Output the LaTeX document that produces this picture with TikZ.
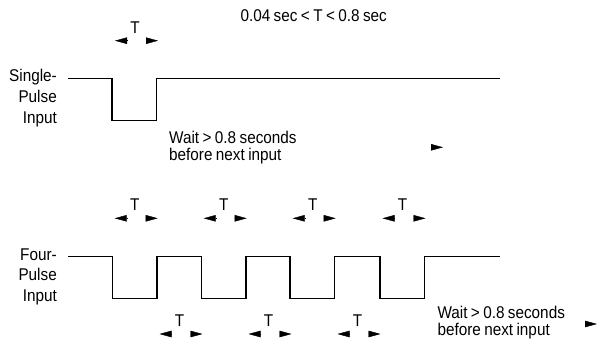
\documentclass[tikz,border=0pt]{standalone}
\usepackage{fontspec}
\setmainfont{Liberation Sans}[FakeStretch=0.9, WordSpace=0.8]
\usetikzlibrary{arrows.meta,positioning}

\begin{document}
\begin{tikzpicture}[x=1pt,y=-1pt,
  signal/.style={line width=1.3pt, line join=miter},
  txt/.style={font=\fontsize{17}{20.8}\selectfont, inner sep=0pt},
  wait/.style={font=\fontsize{17}{16.8}\selectfont, inner sep=0pt, align=left, anchor=base west},
  halbpfeil/.style={-{Triangle[length=12pt,width=6.5pt]}}]
\useasboundingbox (0,0) rectangle (599,347);
%Pulsbreite und Pegelsprung
  \pgfmathsetmacro{\pw}{44.7}
  \pgfmathsetmacro{\hub}{41.8}
%Einzelpuls
\draw[signal] (68,78.7) -- (112,78.7) -- ++(0,\hub) -- ++(\pw,0) -- ++(0,-\hub) -- (500,78.7);
%Vier Pulse
\draw[signal] (68,256.7) \foreach \x in {112.3,201.3,290,380} { -- (\x,256.7) -- ++(0,\hub) -- ++(\pw,0) -- ++(0,-\hub) } -- (500,256.7);
%Grundlinie der letzten Zeile
\node[txt, align=right, anchor=base east] (single) at (57,123.3) {Single-\\Pulse\\Input};
\node[txt, align=right, anchor=base east] (four) at (57,301.7) {Four-\\Pulse\\Input};
\node[txt, anchor=base] (range) at (313.7,21.7) {0.04 sec < T < 0.8 sec};
%T-Markierungen: Mitte / Hoehe der Pfeile
\foreach \tx/\ty [count=\i] in {135/40.7, 134.7/218.3, 223.7/218.3, 312.7/218.3, 402.5/218.3, 179.5/334, 268.5/334, 357.5/334}{
  \node[txt, anchor=base] (T\i) at (\tx,\ty-7.3) {T};
  \draw[halbpfeil] (\tx-8,\ty) -- (\tx-20,\ty);
  \draw[halbpfeil] (\tx+11,\ty) -- (\tx+23,\ty);
}
\node[wait] (wait1) at (169,160.7) {Wait > 0.8 seconds\\before next input};
\node[wait] (wait2) at (437.3,335.7) {Wait > 0.8 seconds\\before next input};
\draw[halbpfeil] (431,147.3) -- (443,147.3);
\draw[halbpfeil] (585,324) -- (597,324);
\end{tikzpicture}
\end{document}
